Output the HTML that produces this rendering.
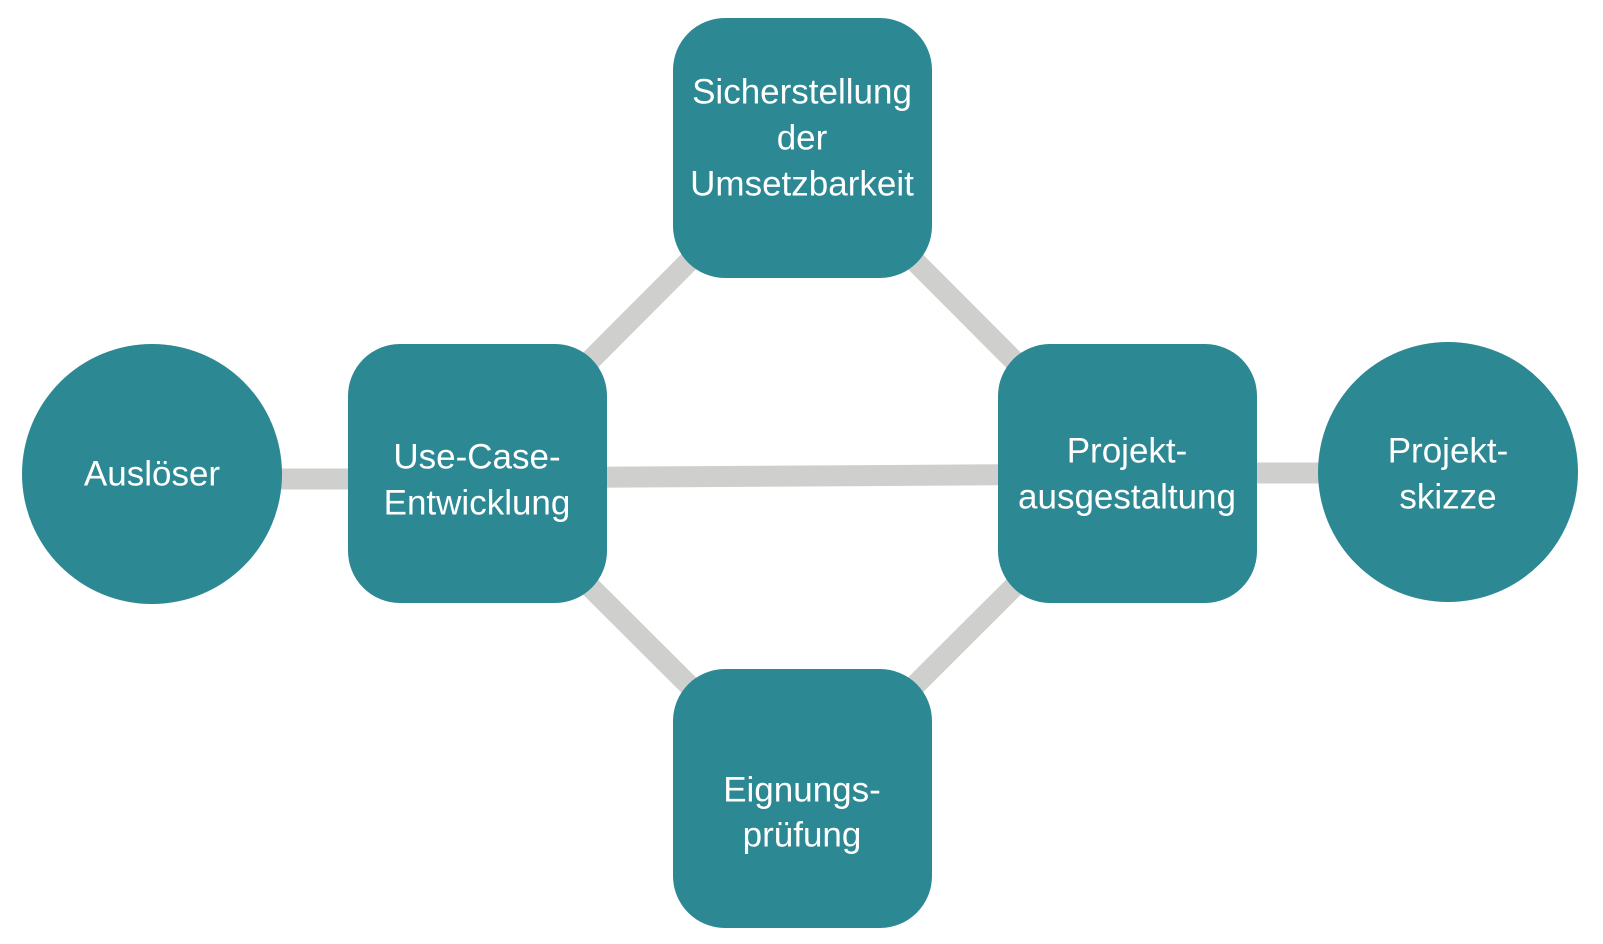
<!DOCTYPE html>
<html><head><meta charset="utf-8"><style>html,body{margin:0;padding:0;background:#fff}svg{display:block}</style></head>
<body>
<svg width="1603" height="944" viewBox="0 0 1603 944" xmlns="http://www.w3.org/2000/svg">
<g stroke="#cfcfcd" stroke-width="21" fill="none">
<line x1="152" y1="479" x2="477" y2="479"/>
<line x1="477" y1="478" x2="1127" y2="474"/>
<line x1="1127" y1="473" x2="1448" y2="473"/>
<line x1="477" y1="474" x2="802" y2="148"/>
<line x1="802" y1="148" x2="1127" y2="474"/>
<line x1="477" y1="474" x2="802" y2="798"/>
<line x1="802" y1="798" x2="1127" y2="474"/>
</g>
<g fill="#2c8893">
<circle cx="152" cy="474" r="130"/>
<circle cx="1448" cy="472" r="130"/>
<rect x="348" y="344" width="259" height="259" rx="52"/>
<rect x="673" y="18" width="259" height="260" rx="52"/>
<rect x="673" y="669" width="259" height="259" rx="52"/>
<rect x="998" y="344" width="259" height="259" rx="52"/>
</g>
<g fill="#fff" font-family="'Liberation Sans Narrow','Liberation Sans',sans-serif" font-size="35" text-anchor="middle" dominant-baseline="central">
<text x="152" y="474">Auslöser</text>
<text x="477" y="457">Use-Case-</text>
<text x="477" y="503">Entwicklung</text>
<text x="802" y="92">Sicherstellung</text>
<text x="802" y="138">der</text>
<text x="802" y="184">Umsetzbarkeit</text>
<text x="1127" y="451">Projekt-</text>
<text x="1127" y="497">ausgestaltung</text>
<text x="1448" y="451">Projekt-</text>
<text x="1448" y="497">skizze</text>
<text x="802" y="790">Eignungs-</text>
<text x="802" y="835">prüfung</text>
</g>
</svg>
</body></html>
